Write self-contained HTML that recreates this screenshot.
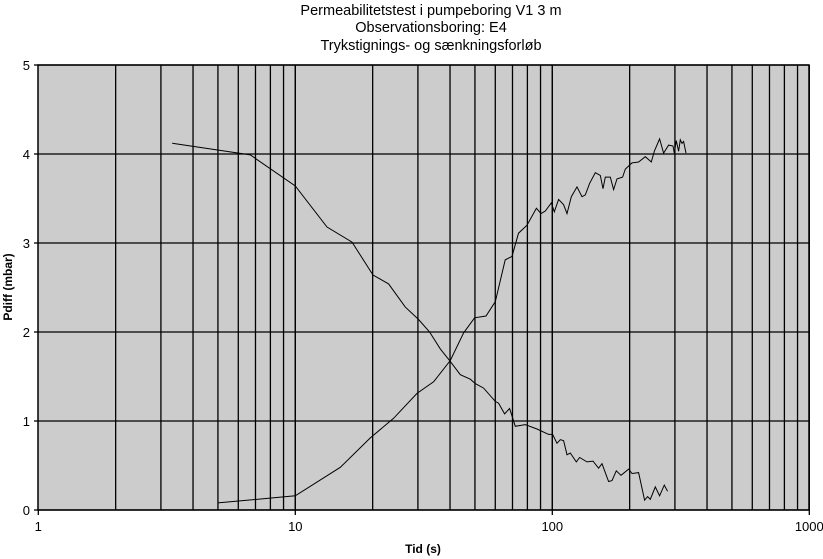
<!DOCTYPE html>
<html><head><meta charset="utf-8"><style>
body{margin:0;background:#fff;}
svg{display:block;font-family:"Liberation Sans",Arial,sans-serif;}
</style></head><body>
<svg id="chart" width="823" height="559" viewBox="0 0 823 559">
<g font-size="14.5" text-anchor="middle">
<text x="431" y="15">Permeabilitetstest i pumpeboring V1 3 m</text>
<text x="431" y="32">Observationsboring: E4</text>
<text x="431" y="50">Trykstignings- og sænkningsforløb</text>
</g>
<rect x="38" y="65" width="771" height="445" fill="#cccccc"/>
<g id="grid"></g>
<g id="series"></g>
<rect x="38" y="65" width="771" height="445" fill="none" stroke="#000" stroke-width="1.5"/>
<g id="axes" font-size="13"></g>
<text transform="translate(12,287) rotate(-90)" text-anchor="middle" font-weight="bold" font-size="12">Pdiff (mbar)</text>
<text x="423" y="553" text-anchor="middle" font-weight="bold" font-size="12">Tid (s)</text>
</svg>
<script>
const yTicks=[0,1,2,3,4,5];
const xTickLabels=["1","10","100","1000"];
const xTickValues=[1,10,100,1000];
const fallT=[3.32,6.68,10,13.28,16.62,20.06,23.07,26.79,30.18,33.32,36.66,40.11,43.86,47.97,50.16,54.05,60.0,61.8,65.2,68.2,71.8,78.5,87.2,96.7,100.3,104.3,107.4,110.7,114.1,117.5,124.0,127.7,136.5,144.0,151.4,156.1,165.6,170.8,177.5,185.1,198.2,204.3,216.7,228.6,234.8,240.6,251.6,261.6,272.8,280.9];
const fallP=[4.12,3.99,3.64,3.18,3.01,2.64,2.54,2.28,2.14,2.00,1.81,1.67,1.52,1.47,1.42,1.37,1.22,1.20,1.08,1.14,0.94,0.96,0.91,0.85,0.85,0.75,0.79,0.78,0.62,0.64,0.54,0.59,0.54,0.55,0.47,0.52,0.32,0.33,0.44,0.39,0.46,0.41,0.42,0.11,0.15,0.12,0.26,0.16,0.28,0.21];
const riseT=[5.0,10,14.97,19.58,24.13,29.75,34.51,40.11,45.17,49.85,55.2,60.0,65.6,69.7,73.9,79.7,86.7,90.4,93.9,99.1,101.8,105.8,110.7,114.1,118.6,124.8,130.5,134.4,139.7,147.0,153.8,157.5,160.8,168.2,173.2,178.6,187.7,192.3,204.3,216.7,230.1,242.8,249.4,261.6,271.1,283.5,294.8,298.3,303.6,310.0,314.8,319.7,324.3,331.3];
const riseP=[0.08,0.16,0.48,0.81,1.03,1.31,1.44,1.68,1.99,2.16,2.18,2.34,2.81,2.85,3.11,3.20,3.39,3.33,3.36,3.45,3.35,3.49,3.43,3.33,3.52,3.63,3.52,3.54,3.67,3.79,3.76,3.61,3.74,3.74,3.60,3.72,3.74,3.83,3.90,3.91,3.97,3.91,4.03,4.17,4.01,4.10,4.09,4.01,4.15,4.03,4.16,4.12,4.14,4.01];

const NS="http://www.w3.org/2000/svg";
const X0=38.3,DEC=257,Y0=510,UNIT=89;
function xs(t){return X0+Math.log10(t)*DEC;}
function ys(p){return Y0-p*UNIT;}
function mk(tag,attrs,parent){const e=document.createElementNS(NS,tag);for(const k in attrs)e.setAttribute(k,attrs[k]);parent.appendChild(e);return e;}
const grid=document.getElementById('grid'),axes=document.getElementById('axes'),series=document.getElementById('series');
for(let d=1;d<1000;d*=10){for(let m=1;m<=10;m++){const v=d*m;if(v===1)continue;
 const l=mk('line',{x1:xs(v),x2:xs(v),y1:65,y2:510,stroke:'#000','stroke-width':1.3},grid);
 
 }}
yTicks.forEach(v=>{
 const l=mk('line',{x1:38,x2:809,y1:ys(v),y2:ys(v),stroke:'#000','stroke-width':1.3},grid);
 
 
 const tk=mk('line',{x1:34,x2:38,y1:ys(v),y2:ys(v),stroke:'#000','stroke-width':1.3},axes);
 
 
 const t=mk('text',{x:30,y:ys(v)+5,'text-anchor':'end'},axes);t.textContent=String(v);
 
 
});
xTickValues.forEach((v,i)=>{
 const tk=mk('line',{x1:xs(v),x2:xs(v),y1:510,y2:515,stroke:'#000','stroke-width':1.3},axes);
 
 
 const t=mk('text',{x:xs(v),y:531,'text-anchor':'middle'},axes);t.textContent=xTickLabels[i];
 
 
});
function path(T,P){return T.map((t,i)=>(i?'L':'M')+xs(t).toFixed(1)+','+ys(P[i]).toFixed(1)).join('');}
const f=mk('path',{d:path(fallT,fallP),fill:'none',stroke:'#000','stroke-width':1},series);


const r=mk('path',{d:path(riseT,riseP),fill:'none',stroke:'#000','stroke-width':1},series);


</script>
</body></html>
